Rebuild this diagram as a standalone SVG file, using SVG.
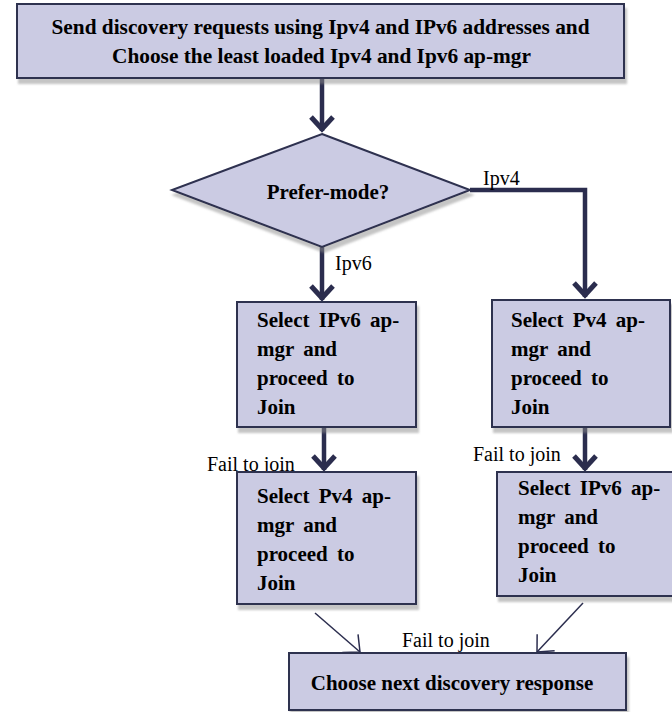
<svg xmlns="http://www.w3.org/2000/svg" width="672" height="712" viewBox="0 0 672 712">
<defs>
<style>
.box{fill:#cbcbe3;stroke:#2e3050;stroke-width:2;filter:url(#sh)}
.bt{font-family:"Liberation Serif","Times New Roman",serif;font-weight:bold;font-size:21px;fill:#000}
.lbl{font-family:"Liberation Serif","Times New Roman",serif;font-size:20px;fill:#000}
.thick{fill:none;stroke:#2b2d4e;stroke-width:4.5;marker-end:url(#ah)}
.thin{fill:none;stroke:#2b2d4e;stroke-width:1.5;marker-end:url(#ahs)}
</style>
<filter id="sh" x="-10%" y="-10%" width="130%" height="130%">
<feDropShadow dx="2" dy="5" stdDeviation="1" flood-color="#8a8a8a" flood-opacity="0.5"/>
</filter>
<marker id="ah" markerUnits="userSpaceOnUse" markerWidth="40" markerHeight="40" viewBox="-20 -20 40 40" refX="0" refY="0" orient="auto" overflow="visible">
<path d="M-14,-11 L-2,0 L-14,11" fill="none" stroke="#2b2d4e" stroke-width="5" stroke-linejoin="miter"/>
</marker>
<marker id="ahs" markerUnits="userSpaceOnUse" markerWidth="40" markerHeight="40" viewBox="-20 -20 40 40" refX="0" refY="0" orient="auto" overflow="visible">
<path d="M-13,-12 L0,0 L-13,12" fill="none" stroke="#2b2d4e" stroke-width="1.5"/>
</marker>
</defs>

<g id="connectors">
<path class="thick" d="M322,79 V131"/>
<path class="thick" d="M470,190 H585 V297"/>
<path class="thick" d="M322,247 V300"/>
<path class="thick" d="M324,428 V470"/>
<path class="thick" d="M585,428 V470"/>
<path class="thin" d="M315,613 L360,652"/>
<path class="thin" d="M583,603 L537,652"/>
<text class="lbl" x="483" y="185">Ipv4</text>
<text class="lbl" x="335" y="270">Ipv6</text>
<text class="lbl" x="207" y="471">Fail to join</text>
<text class="lbl" x="473" y="461">Fail to join</text>
<text class="lbl" x="402" y="647">Fail to join</text>
</g>

<g id="start">
<rect class="box" x="17" y="4" width="607" height="74"/>
<text class="bt" x="320.5" y="34" text-anchor="middle" textLength="538" lengthAdjust="spacingAndGlyphs">Send discovery requests using Ipv4 and IPv6 addresses and</text>
<text class="bt" x="321.5" y="63" text-anchor="middle" textLength="419" lengthAdjust="spacingAndGlyphs">Choose the least loaded Ipv4 and Ipv6 ap-mgr</text>
</g>

<g id="decision">
<polygon class="box" points="322,134 470,190 322,247 172,190"/>
<text class="bt" x="328" y="199" text-anchor="middle">Prefer-mode?</text>
</g>

<g id="ipv6-first">
<rect class="box" x="237" y="302" width="179" height="125"/>
<text class="bt" x="257" y="327" word-spacing="4">Select IPv6 ap-</text>
<text class="bt" x="257" y="356" word-spacing="4">mgr and</text>
<text class="bt" x="257" y="385" word-spacing="4">proceed to</text>
<text class="bt" x="257" y="414" word-spacing="4">Join</text>
</g>

<g id="ipv4-first">
<rect class="box" x="492" y="300" width="178" height="127"/>
<text class="bt" x="511" y="327" word-spacing="4">Select Pv4 ap-</text>
<text class="bt" x="511" y="356" word-spacing="4">mgr and</text>
<text class="bt" x="511" y="385" word-spacing="4">proceed to</text>
<text class="bt" x="511" y="414" word-spacing="4">Join</text>
</g>

<g id="ipv4-fallback">
<rect class="box" x="237" y="472" width="179" height="132"/>
<text class="bt" x="257" y="503" word-spacing="4">Select Pv4 ap-</text>
<text class="bt" x="257" y="532" word-spacing="4">mgr and</text>
<text class="bt" x="257" y="561" word-spacing="4">proceed to</text>
<text class="bt" x="257" y="590" word-spacing="4">Join</text>
</g>

<g id="ipv6-fallback">
<rect class="box" x="497" y="472" width="179" height="124"/>
<text class="bt" x="518" y="495" word-spacing="4">Select IPv6 ap-</text>
<text class="bt" x="518" y="524" word-spacing="4">mgr and</text>
<text class="bt" x="518" y="553" word-spacing="4">proceed to</text>
<text class="bt" x="518" y="582" word-spacing="4">Join</text>
</g>

<g id="next-response">
<rect class="box" x="289" y="653" width="337" height="57"/>
<text class="bt" x="452" y="690" text-anchor="middle">Choose next discovery response</text>
</g>
</svg>
